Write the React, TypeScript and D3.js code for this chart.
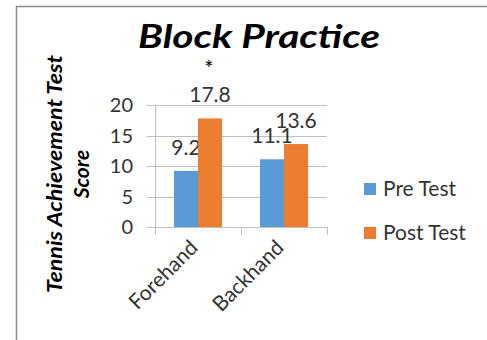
import React from "react";
import * as d3 from "d3";

const categories = ["Forehand", "Backhand"];
const seriesNames = ["Pre Test", "Post Test"];
const preTest = [9.2, 11.1];
const postTest = [17.8, 13.6];
const yTicks = [0, 5, 10, 15, 20];
const colors = ["#5b9bd5", "#ed7d31"];
const title = "Block Practice";
const yTitle = ["Tennis Achievement Test", "Score"];

const W = 487;
const H = 340;
const FONT = "Lato, 'Open Sans', sans-serif";

export default function App() {
  const x0 = d3.scaleBand<string>().domain(categories).range([155, 327]).padding(0);
  const x1 = d3
    .scaleBand<string>()
    .domain(seriesNames)
    .range([0, x0.bandwidth()])
    .paddingInner(0)
    .paddingOuter(0.79);
  const y = d3.scaleLinear().domain([0, 20]).range([227, 105]);
  const values = [preTest, postTest];

  return (
    <svg
      width={W}
      height={H}
      style={{ position: "absolute", left: 0, top: 0, background: "#fff" }}
      fontFamily={FONT}
    >
      <rect x={0} y={0} width={W} height={H} fill="#fff" />
      {/* chart border */}
      <rect x={16.5} y={6.5} width={W + 10} height={H + 10} fill="none" stroke="#8c8c8c" strokeWidth={1.5} />

      {/* title */}
      <text x={259} y={48} textAnchor="middle" fontSize={32} fontWeight="bold" fontStyle="italic" fill="#000" textLength={242} lengthAdjust="spacingAndGlyphs">
        {title}
      </text>
      <text x={209} y={76} textAnchor="middle" fontSize={22} fill="#000">*</text>

      {/* gridlines & y ticks */}
      {yTicks.map((t) => (
        <g key={t}>
          <line x1={147} x2={327} y1={Math.round(y(t)) + 0.5} y2={Math.round(y(t)) + 0.5} stroke="#bfbfbf" strokeWidth={1} />
          <text x={133} y={y(t) + 7} textAnchor="end" fontSize={20} fill="#333">
            {t}
          </text>
        </g>
      ))}
      {/* y axis */}
      <line x1={155.5} x2={155.5} y1={y(20)} y2={y(0)} stroke="#bfbfbf" />
      {/* x axis ticks */}
      {[...categories.map((c) => x0(c) as number), 327].map((xv, i) => (
        <line key={i} x1={Math.round(xv) + 0.5} x2={Math.round(xv) + 0.5} y1={y(0)} y2={y(0) + 8} stroke="#bfbfbf" />
      ))}

      {/* bars */}
      {categories.map((c, ci) => (
        <g key={c} transform={`translate(${x0(c)},0)`}>
          {seriesNames.map((s, si) => {
            const v = values[si][ci];
            const bx = x1(s) as number;
            return (
              <g key={s}>
                <rect x={bx} y={y(v)} width={x1.bandwidth()} height={y(0) - y(v)} fill={colors[si]} />
                <text x={bx + x1.bandwidth() / 2} y={y(v) - 16} textAnchor="middle" fontSize={21} fill="#333">
                  {v}
                </text>
              </g>
            );
          })}
        </g>
      ))}

      {/* category labels */}
      {categories.map((c) => {
        const cx = (x0(c) as number) + x0.bandwidth() / 2 + 1;
        return (
          <text key={c} transform={`translate(${cx},${249}) rotate(-45)`} textAnchor="end" fontSize={21} fill="#333">
            {c}
          </text>
        );
      })}

      {/* y title */}
      <g transform={`translate(62,174) rotate(-90)`}>
        <text x={0} y={0} textAnchor="middle" fontSize={21} fontWeight="bold" fontStyle="italic" fill="#000" textLength={238} lengthAdjust="spacingAndGlyphs">
          {yTitle[0]}
        </text>
        <text x={0} y={27} textAnchor="middle" fontSize={21} fontWeight="bold" fontStyle="italic" fill="#000">
          {yTitle[1]}
        </text>
      </g>

      {/* legend */}
      {seriesNames.map((s, i) => (
        <g key={s} transform={`translate(364,${183 + i * 44})`}>
          <rect x={0} y={0} width={12} height={12} fill={colors[i]} />
          <text x={19} y={13} fontSize={21} fill="#333">
            {s}
          </text>
        </g>
      ))}
    </svg>
  );
}
